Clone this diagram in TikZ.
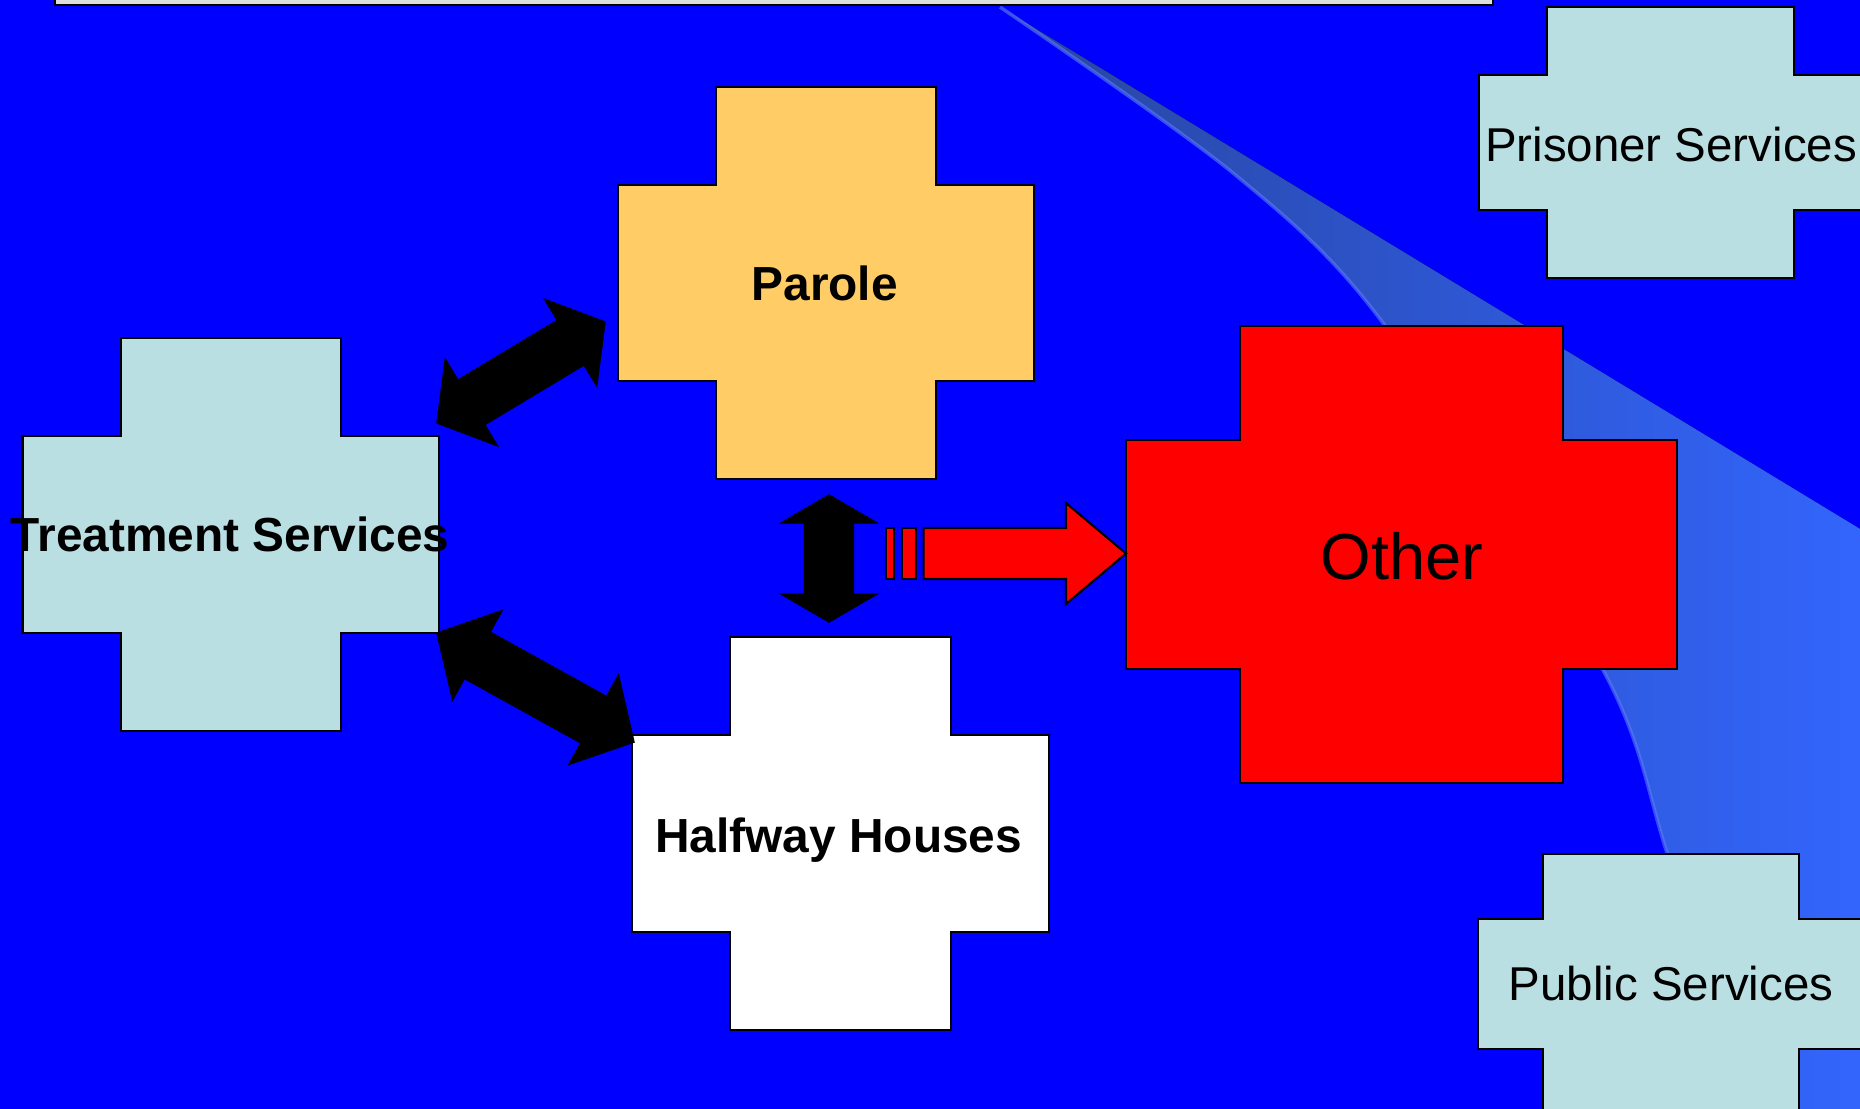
\documentclass[tikz,border=0pt]{standalone}
\usepackage{fontspec}
\setmainfont{Liberation Sans}
\usepackage{tikz}
\usetikzlibrary{calc}
\definecolor{slideblue}{HTML}{0000FF}
\definecolor{paleteal}{HTML}{B9DFE3}
\definecolor{apricot}{HTML}{FFCC66}
\definecolor{titlegrey}{HTML}{DDDDDD}
\definecolor{swdark}{HTML}{28459F}
\definecolor{swmid}{HTML}{305DE8}
\definecolor{swlight}{HTML}{3366FF}
\definecolor{swedge}{HTML}{5A7BFF}
\tikzstyle{base}=[x=0.01cm, y=-0.01cm, line join=miter]
\tikzstyle{crossline}=[draw=black, line width=0.6pt]
\tikzstyle{txt}=[inner sep=0pt, anchor=base, font={\fontsize{13.5}{16}\selectfont}]
\tikzstyle{boldtxt}=[txt, font={\fontsize{13.6}{16}\selectfont\bfseries}]
\tikzstyle{redarrow}=[fill=red, draw=black, line width=0.6pt]

% plus shape: fill, centre x, centre y, width, height
\newcommand{\crossshape}[5]{%
  \pgfmathsetmacro{\ci}{0.25*min(#4,#5)}%
  \pgfmathsetmacro{\ca}{#4/2}%
  \pgfmathsetmacro{\cb}{#5/2}%
  \filldraw[crossline, fill=#1] (#2-\ca+\ci, #3-\cb) -- (#2+\ca-\ci, #3-\cb)
    -- (#2+\ca-\ci, #3-\cb+\ci) -- (#2+\ca, #3-\cb+\ci) -- (#2+\ca, #3+\cb-\ci)
    -- (#2+\ca-\ci, #3+\cb-\ci) -- (#2+\ca-\ci, #3+\cb) -- (#2-\ca+\ci, #3+\cb)
    -- (#2-\ca+\ci, #3+\cb-\ci) -- (#2-\ca, #3+\cb-\ci) -- (#2-\ca, #3-\cb+\ci)
    -- (#2-\ca+\ci, #3-\cb+\ci) -- cycle;}

% double block arrow: from, to, half shaft, half head, head length
\newcommand{\blockarrow}[5]{%
  \filldraw[black] (#1) -- ($(#1)!#5!(#2)!#4!90:(#2)$) -- ($(#1)!#5!(#2)!#3!90:(#2)$)
    -- ($(#2)!#5!(#1)!#3!-90:(#1)$) -- ($(#2)!#5!(#1)!#4!-90:(#1)$) -- (#2)
    -- ($(#2)!#5!(#1)!#4!90:(#1)$) -- ($(#2)!#5!(#1)!#3!90:(#1)$)
    -- ($(#1)!#5!(#2)!#3!-90:(#2)$) -- ($(#1)!#5!(#2)!#4!-90:(#2)$) -- cycle;}

\begin{document}
\begin{tikzpicture}[base]
    \useasboundingbox (0,0) rectangle (1860,1108);
    \fill[slideblue] (-20,-20) rectangle (1880,1128);
    % swoosh
    \fill[left color=swdark, middle color=swmid, right color=swlight]
        (1000,7) -- (1880,541) -- (1880,1128) -- plot[smooth] coordinates
        {(1750,1128) (1745,1108) (1667,853) (1603,670) (1383,323) (1233,173) (1000,7)} -- cycle;
    \draw[swedge, line width=1pt, opacity=0.6] plot[smooth] coordinates
        {(1745,1108) (1667,853) (1603,670) (1383,323) (1233,173) (1000,7)};
    \filldraw[fill=titlegrey, draw=black, line width=0.8pt] (55,-20) rectangle (1493,5);

    \crossshape{paleteal}{230.75}{534.5}{416.5}{393}
    \crossshape{apricot}{826}{283}{416}{392}
    \crossshape{white}{840.5}{833.5}{417}{393}
    \crossshape{red}{1401.5}{554.5}{551}{457}
    \crossshape{paleteal}{1670.5}{142.5}{383}{271}
    \crossshape{paleteal}{1671}{984}{386}{260}

    \node[boldtxt] (treat) at (230.3,551.7) {Treatment Services};
    \node[boldtxt] (parole) at (824.7,300.7) {Parole};
    \node[boldtxt] (halfway) at (838.8,852.7) {Halfway Houses};
    \node[txt, font={\fontsize{18.5}{22}\selectfont}] (other) at (1402,579.5) {Other};
    \node[txt] (prisoner) at (1671,161) {Prisoner Services};
    \node[txt] (public) at (1671,1000) {Public Services};

    \coordinate (treatNE) at (437,423);
    \coordinate (paroleW) at (605,322);
    \coordinate (treatSE) at (437,633);
    \coordinate (halfwayNW) at (634,742);
    \coordinate (paroleS) at (829,495);
    \coordinate (halfwayN) at (829,622);
    \coordinate (otherW) at (1126,553.5);

    \blockarrow{treatNE}{paroleW}{0.26cm}{0.505cm}{0.40cm}
    \blockarrow{treatSE}{halfwayNW}{0.265cm}{0.51cm}{0.46cm}
    \blockarrow{paroleS}{halfwayN}{0.245cm}{0.48cm}{0.28cm}

    \filldraw[redarrow] (otherW) -- ++(-60,-50.5) -- ++(0,25) -- ++(-142.4,0)
        -- ++(0,51) -- ++(142.4,0) -- ++(0,25) -- cycle;
    \filldraw[redarrow] (886,528) rectangle (894,579);
    \filldraw[redarrow] (902,528) rectangle (916,579);
\end{tikzpicture}
\end{document}
